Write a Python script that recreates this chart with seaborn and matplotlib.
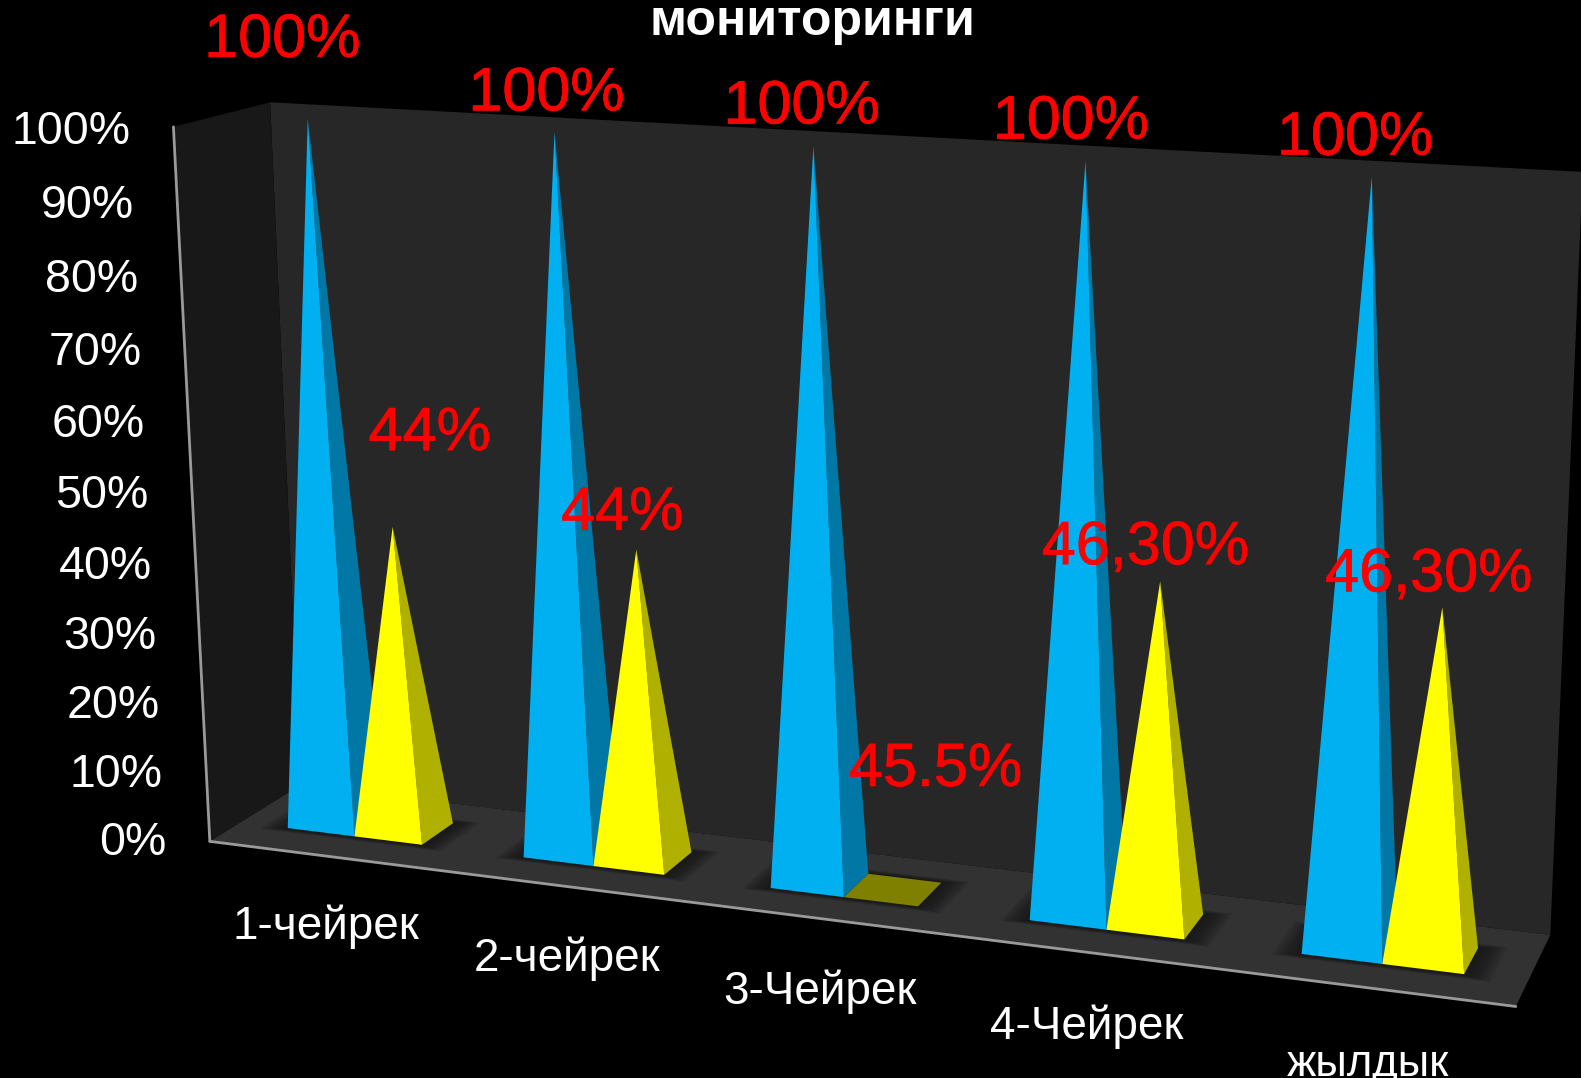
import numpy as np
import pandas as pd
import seaborn as sns
import matplotlib
matplotlib.use("Agg")
import matplotlib.pyplot as plt
import matplotlib.patheffects as pe

# ---- data ----
categories = ["1-чейрек", "2-чейрек", "3-Чейрек", "4-Чейрек", "жылдык"]
series_a = [100, 100, 100, 100, 100]
series_b = [44, 44, 0, 46.3, 46.3]
labels_a = ["100%", "100%", "100%", "100%", "100%"]
labels_b = ["44%", "44%", "45.5%", "46,30%", "46,30%"]
ticks = [0, 10, 20, 30, 40, 50, 60, 70, 80, 90, 100]

# ---- layout (canvas units of the 1568x1069 view) ----
label_a_xy = [(280, 41), (542, 94), (795, 107), (1062, 122), (1344, 138)]
label_b_xy = [(426, 431), (617, 510), (928, 764), (1136, 544), (1417, 571)]
cat_xy = [(323, 919), (562, 951), (813, 983), (1078, 1018), (1357, 1056)]
cat_size = [33, 33, 33, 33, 31.5]
world_pts = [(0,0,0),(1,0,0),(1,1,0),(0,1,0),(0,0,1),(1,0,1),(1,1,1),(0,1,1)]
view_pts = [(208,830),(1503,1000),(1538,925),(298,783),(171,126),(1537,205),(1568,168),(269,101)]
BAR_W = 0.0575
Y0, Y1 = 0.33, 0.70
X_SHIFT = -0.0015

def fit_camera(w, v):
    A, b = [], []
    for (X, Y, Z), (u, t) in zip(w, v):
        A.append([X, Y, Z, 1, 0, 0, 0, 0, -u*X, -u*Y, -u*Z]); b.append(u)
        A.append([0, 0, 0, 0, X, Y, Z, 1, -t*X, -t*Y, -t*Z]); b.append(t)
    p = np.linalg.lstsq(np.array(A, float), np.array(b, float), rcond=None)[0]
    return np.append(p, 1).reshape(3, 4)

CAM = fit_camera(world_pts, view_pts)

def proj(X, Y, Z):
    u = CAM @ np.array([X, Y, Z, 1.0])
    return u[0] / u[2], u[1] / u[2]

sns.set_theme(style="dark", rc={"axes.facecolor": "black", "figure.facecolor": "black"})
plt.rcParams["font.family"] = ["Liberation Sans", "DejaVu Sans"]
palette = sns.color_palette(["#00B0F0", "#FFFF00"])
sides = ["#0077A4", "#B0B000"]
flats = ["#00608A", "#808000"]

df = pd.DataFrame({"cat": categories, "a": series_a, "b": series_b})

fig = plt.figure(figsize=(15.81, 10.78), dpi=100)
ax = fig.add_axes([0, 0, 1, 1])
ax.set_xlim(0, 1568)
ax.set_ylim(1069, 0)
ax.axis("off")

def poly(pts, color, z=1, **kw):
    xy = [proj(*p) for p in pts]
    ax.fill([q[0] for q in xy], [q[1] for q in xy], color=color, lw=0, zorder=z, **kw)

poly([(0,1,0),(1,1,0),(1,1,1),(0,1,1)], "#272727", 1)
poly([(0,0,0),(0,1,0),(0,1,1),(0,0,1)], "#181818", 1)
poly([(0,0,0),(1,0,0),(1,1,0),(0,1,0)], "#323232", 2)

for a, b in [((0,0,0),(0,0,1)), ((0,0,0),(1,0,0))]:
    pa, pb = proj(*a), proj(*b)
    ax.plot([pa[0], pb[0]], [pa[1], pb[1]], color="#9a9a9a", lw=2, zorder=3)

def pyramid(x0, x1, val, k):
    z = val / 100
    xm, ym = (x0 + x1) / 2, (Y0 + Y1) / 2
    if z == 0:
        poly([(x0,Y0,0),(x1,Y0,0),(x1,Y1,0),(x0,Y1,0)], flats[k], 5)
        return
    poly([(x1,Y0,0),(x1,Y1,0),(xm,ym,z)], sides[k], 5)
    poly([(x0,Y0,0),(x1,Y0,0),(xm,ym,z)], palette[k], 5)

for i, row in df.iterrows():
    c = (i + 0.5) / len(df) + X_SHIFT
    for m in np.linspace(0.02, 0.001, 16):
        poly([(c-BAR_W-m, Y0-3*m, 0), (c+BAR_W+m, Y0-3*m, 0),
              (c+BAR_W+m, Y1+3*m, 0), (c-BAR_W-m, Y1+3*m, 0)], "#141414", 3, alpha=0.08)
    pyramid(c - BAR_W, c, row["a"], 0)
    pyramid(c, c + BAR_W, row["b"], 1)

for t in ticks:
    x, y = proj(0, 0, t / 100)
    ax.text(x - 43, y + 1.5 + 3.5 * t / 100, f"{t}%", color="white", fontsize=33.5,
            ha="right", va="center", zorder=8)

for (x, y), s, fs in zip(cat_xy, categories, cat_size):
    ax.text(x, y, s, color="white", fontsize=fs, ha="center", va="center", zorder=8)

stroke = [pe.withStroke(linewidth=0.5, foreground="#FF0000")]
for (x, y), s in zip(label_a_xy + label_b_xy, labels_a + labels_b):
    ax.text(x, y, s, color="#FF0000", fontsize=44, ha="center", va="center", zorder=9,
            path_effects=stroke)

ax.text(806, 35, "мониторинги", color="white", fontsize=36, fontweight="bold",
        ha="center", va="baseline", zorder=9)

fig.savefig("out.png", dpi=100, facecolor="black")
